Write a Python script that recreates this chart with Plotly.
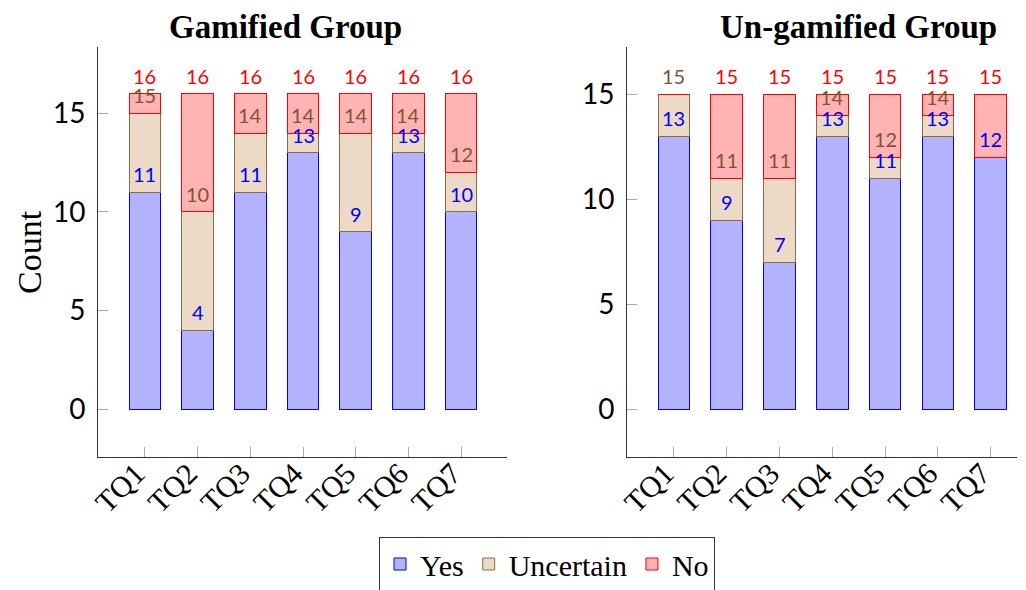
import plotly.graph_objects as go
from plotly.subplots import make_subplots

categories = ["TQ1", "TQ2", "TQ3", "TQ4", "TQ5", "TQ6", "TQ7"]

gam_yes = [11, 4, 11, 13, 9, 13, 10]
gam_uncertain = [4, 6, 3, 1, 5, 1, 2]
gam_no = [1, 6, 2, 2, 2, 2, 4]

ungam_yes = [13, 9, 7, 13, 11, 13, 12]
ungam_uncertain = [2, 2, 4, 1, 1, 1, 0]
ungam_no = [0, 4, 4, 1, 3, 1, 3]

series_names = ["Yes", "Uncertain", "No"]
fills = ["#b3b3ff", "#ecd9c6", "#ffb3b3"]
edges = ["#0000ff", "#8c6a48", "#ff0000"]
label_colors = ["#0000ff", "#7f5533", "#ff0000"]

SERIF = "Liberation Serif"
SANS = "Lato"

fig = make_subplots(rows=1, cols=2)

groups = [
    (1, [gam_yes, gam_uncertain, gam_no]),
    (2, [ungam_yes, ungam_uncertain, ungam_no]),
]

annotations = []
for col, data in groups:
    cum = [0] * len(categories)
    for i, vals in enumerate(data):
        fig.add_trace(
            go.Bar(
                x=categories, y=vals, name=series_names[i],
                marker=dict(color=fills[i], line=dict(color=edges[i], width=1)),
                width=0.6, showlegend=(col == 1),
            ),
            row=1, col=col,
        )
        cum = [c + v for c, v in zip(cum, vals)]
        xref = "x" if col == 1 else "x2"
        yref = "y" if col == 1 else "y2"
        for cat, v, c in zip(categories, vals, cum):
            if v == 0:
                continue
            annotations.append(dict(
                x=cat, y=c, xref=xref, yref=yref, text=str(c), showarrow=False,
                yanchor="bottom", yshift=4,
                font=dict(family=SANS, size=20, color=label_colors[i]),
            ))

W, H = 1026, 590
OFF = 8  # page body margin
L1, R1 = (98 - OFF) / W, (507 - OFF) / W
L2, R2 = (627 - OFF) / W, (1017 - OFF) / W
B, T = 1 - (457 - OFF) / H, 1 - (47 - OFF) / H

axis_common = dict(
    showline=True, linecolor="#333333", linewidth=1, mirror=False,
    showgrid=False, zeroline=False, ticks="inside", ticklen=10,
    tickcolor="#aaaaaa", tickwidth=1, automargin=False,
)

fig.update_xaxes(**axis_common, tickangle=-45, ticklabelstandoff=-14, ticklabelshift=-9,
                 tickfont=dict(family=SERIF, size=30, color="black"))
fig.update_yaxes(**axis_common, tickvals=[0, 5, 10, 15], ticklabelstandoff=6,
                 tickfont=dict(family=SANS, size=28, color="black"))

fig.update_xaxes(domain=[L1, R1], range=[-0.89, 6.87], row=1, col=1)
fig.update_xaxes(domain=[L2, R2], range=[-0.89, 6.5], row=1, col=2)
fig.update_yaxes(domain=[B, T], range=[-2.42, 18.36], row=1, col=1)
fig.update_yaxes(domain=[B, T], range=[-2.27, 17.24], row=1, col=2)

annotations.append(dict(x=(30 - OFF) / W, y=(B + T) / 2, xref="paper", yref="paper",
                        xanchor="center", yanchor="middle",
                        text="Count", textangle=-90, showarrow=False,
                        font=dict(family=SERIF, size=34, color="black")))
annotations.append(dict(x=(285 - OFF) / W, y=1 - (27 - OFF) / H, xref="paper", yref="paper",
                        xanchor="center", yanchor="middle",
                        text="<b>Gamified Group</b>", showarrow=False,
                        font=dict(family=SERIF, size=33, color="black")))
annotations.append(dict(x=(858 - OFF) / W, y=1 - (27 - OFF) / H, xref="paper", yref="paper",
                        xanchor="center", yanchor="middle",
                        text="<b>Un-gamified Group</b>", showarrow=False,
                        font=dict(family=SERIF, size=33, color="black")))

fig.update_layout(
    width=W, height=H, barmode="stack", bargap=0.4,
    plot_bgcolor="white", paper_bgcolor="white",
    margin=dict(l=0, r=0, t=0, b=0),
    annotations=annotations,
    legend=dict(orientation="h", x=(547 - OFF) / W, xanchor="center",
                y=1 - (537 - OFF) / H, yanchor="top",
                bordercolor="#333333", borderwidth=1, traceorder="normal",
                font=dict(family=SERIF, size=30, color="black"),
                itemwidth=30, tracegroupgap=0),
)

fig.write_html("out.html")
